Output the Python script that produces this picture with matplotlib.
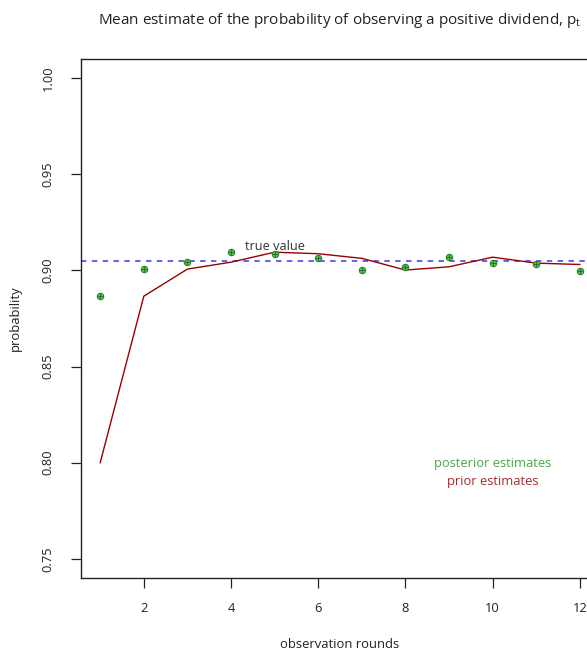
import matplotlib
matplotlib.use("Agg")
import matplotlib.pyplot as plt

plt.rcParams['font.family'] = ['Open Sans', 'DejaVu Sans']

rounds = [1, 2, 3, 4, 5, 6, 7, 8, 9, 10, 11, 12]
posterior = [0.8866, 0.9007, 0.9043, 0.9095, 0.9087, 0.9063, 0.9002, 0.9019, 0.9069, 0.9038, 0.9031, 0.8996]
prior = [0.800, 0.8866, 0.9007, 0.9043, 0.9095, 0.9087, 0.9063, 0.9002, 0.9019, 0.9069, 0.9038, 0.9031]
true_value = 0.905
xticks = [2, 4, 6, 8, 10, 12]
yticks = [0.75, 0.80, 0.85, 0.90, 0.95, 1.00]

W, H = 587, 652
fig = plt.figure(figsize=(W / 100, H / 100), dpi=100)
ax = fig.add_axes([81 / W, 1 - 578 / H, (599 - 81) / W, (578 - 59) / H])

ax.plot(rounds, prior, color='#990000', lw=1.0, zorder=2)
ax.axhline(true_value, color='#5555ee', lw=1.3, linestyle=(0, (3, 3)), zorder=1)
ax.plot(rounds, posterior, linestyle='none', marker='o', ms=4.6,
        markerfacecolor='#5cbf5c', markeredgecolor='#2a8a2a', markeredgewidth=0.8, zorder=3)
ax.plot(rounds, posterior, linestyle='none', marker='+', ms=4.2,
        markeredgecolor='#1f6f1f', markeredgewidth=0.6, zorder=4)

ax.text(5.0, 0.9122, 'true value', ha='center', va='center', fontsize=9.2, color='#333333')

ax.set_xlim(0.56, 12.44)
ax.set_ylim(0.74, 1.01)
ax.set_xticks(xticks)
ax.set_xticklabels([str(v) for v in xticks])
ax.set_yticks(yticks)
ax.set_yticklabels([f'{v:.2f}' for v in yticks], rotation=90, va='center')
ax.tick_params(axis='both', direction='out', length=7, width=0.9, colors='#222222', labelsize=9.3)
ax.tick_params(axis='x', pad=10)
ax.tick_params(axis='y', pad=12)
ax.spines['right'].set_visible(False)
for s in ['left', 'top', 'bottom']:
    ax.spines[s].set_linewidth(1.0)
    ax.spines[s].set_color('#222222')

fig.text(493 / W, 1 - 463 / H, 'posterior estimates', color='#4aa84a', ha='center', va='center', fontsize=9.3)
fig.text(493 / W, 1 - 481 / H, 'prior estimates', color='#a52a2a', ha='center', va='center', fontsize=9.3)

fig.text(340 / W, 1 - 20 / H, r'Mean estimate of the probability of observing a positive dividend, $\mathregular{p_t}$',
         ha='center', va='center', fontsize=11, color='#222222')
fig.text(340 / W, 1 - 645 / H, 'observation rounds', ha='center', va='center', fontsize=9.4, color='#222222')
fig.text(15 / W, 1 - 318 / H, 'probability', ha='center', va='center', rotation=90, fontsize=9.4, color='#222222')

fig.savefig('out.png', dpi=100)
